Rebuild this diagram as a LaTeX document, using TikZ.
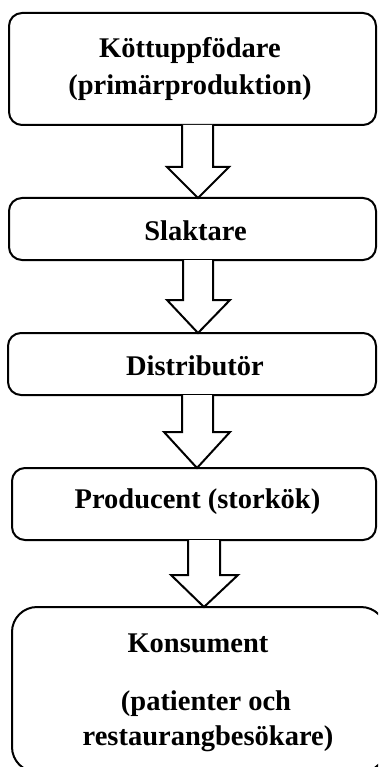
\documentclass[tikz,border=0pt]{standalone}
\usepackage{fontspec}
\setmainfont{Liberation Serif}
\begin{document}
\begin{tikzpicture}[x=1pt,y=-1pt,
  box/.style={draw, line width=2pt, rounded corners=13pt, inner sep=0pt, outer sep=0pt},
  bigbox/.style={box, rounded corners=25pt},
  lbl/.style={font=\bfseries\fontsize{28.5}{34}\selectfont, anchor=base, inner sep=0pt},
  arr/.style={draw, fill=white, line width=2pt, line join=miter}]
\clip (0,0) rectangle (378,767);
\useasboundingbox (0,0) rectangle (378,767);
% boxes
\node[box, minimum width=367pt, minimum height=112pt] (b1) at (192.5,69) {};
\node[box, minimum width=367pt, minimum height=62pt] (b2) at (192.5,229) {};
\node[box, minimum width=368pt, minimum height=62pt] (b3) at (192,364) {};
\node[box, minimum width=364pt, minimum height=72pt] (b4) at (194,504) {};
\node[bigbox, minimum width=374pt, minimum height=165pt] (b5) at (199,689.5) {};
% labels
\node[lbl] (t1a) at (190,58) {Köttuppfödare};
\node[lbl] (t1b) at (190,95) {(primärproduktion)};
\node[lbl] (t2) at (195.5,240) {Slaktare};
\node[lbl] (t3) at (195,375) {Distributör};
\node[lbl] (t4) at (197.5,508) {Producent (storkök)};
\node[lbl] (t5a) at (198,652) {Konsument};
\node[lbl] (t5b) at (206,710) {(patienter och};
\node[lbl] (t5c) at (208,745) {restaurangbesökare)};
% block arrows
\draw[arr] (b1.south -| 182,0) -- (182,167) -- (167,167) -- (b2.north -| 198,0) -- (229,167) -- (213,167) -- (b1.south -| 213,0);
\draw[arr] (b2.south -| 183,0) -- (183,300) -- (167,300) -- (b3.north -| 198,0) -- (230,300) -- (213,300) -- (b2.south -| 213,0);
\draw[arr] (b3.south -| 182,0) -- (182,432) -- (164,432) -- (b4.north -| 197,0) -- (230,432) -- (213,432) -- (b3.south -| 213,0);
\draw[arr] (b4.south -| 188,0) -- (188,575) -- (171,575) -- (b5.north -| 204,0) -- (238,575) -- (220,575) -- (b4.south -| 220,0);
\end{tikzpicture}
\end{document}
